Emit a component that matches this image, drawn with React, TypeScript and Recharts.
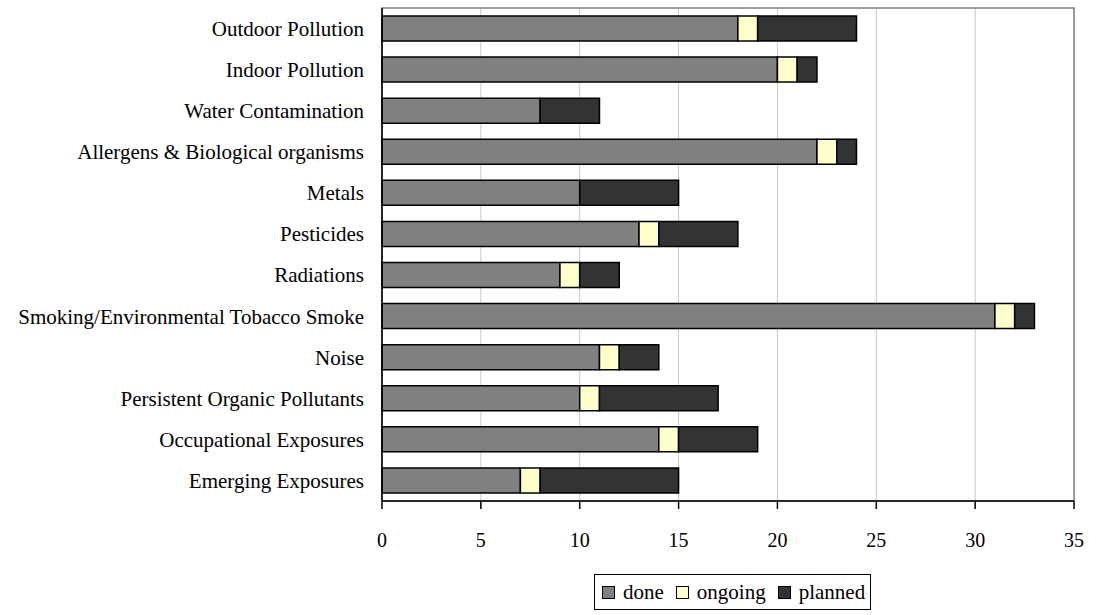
import React from 'react';
import { BarChart, Bar, XAxis, YAxis, CartesianGrid, Legend, ReferenceArea } from 'recharts';

const categories = [
  'Outdoor Pollution',
  'Indoor Pollution',
  'Water Contamination',
  'Allergens & Biological organisms',
  'Metals ',
  'Pesticides',
  'Radiations',
  'Smoking/Environmental Tobacco Smoke',
  'Noise',
  'Persistent Organic Pollutants',
  'Occupational Exposures',
  'Emerging Exposures',
];

const done = [18, 20, 8, 22, 10, 13, 9, 31, 11, 10, 14, 7];
const ongoing = [1, 1, 0, 1, 0, 1, 1, 1, 1, 1, 1, 1];
const planned = [5, 1, 3, 1, 5, 4, 2, 1, 2, 6, 4, 7];

const xTicks = [0, 5, 10, 15, 20, 25, 30, 35];

const seriesInfo = [
  { key: 'done', label: 'done', color: '#808080' },
  { key: 'ongoing', label: 'ongoing', color: '#ffffcc' },
  { key: 'planned', label: 'planned', color: '#333333' },
];

const data = categories.map((name, i) => ({
  name,
  done: done[i],
  ongoing: ongoing[i],
  planned: planned[i],
}));

const FONT = '"Liberation Serif", "Times New Roman", serif';

function LegendBox() {
  return (
    <div
      style={{
        display: 'inline-flex',
        alignItems: 'center',
        boxSizing: 'border-box',
        height: 36,
        border: '1px solid #000',
        padding: '0 5px 0 7px',
        fontFamily: FONT,
        fontSize: 21,
        color: '#000',
        background: '#fff',
      }}
    >
      {seriesInfo.map((s, i) => (
        <span key={s.key} style={{ display: 'inline-flex', alignItems: 'center', marginRight: i < 2 ? 12 : 0 }}>
          <span
            style={{
              display: 'inline-block',
              width: 11,
              height: 11,
              background: s.color,
              border: '1.5px solid #000',
              marginRight: 8,
            }}
          />
          {s.label}
        </span>
      ))}
    </div>
  );
}

export default function App() {
  return (
    <div style={{ width: 1099, height: 615, position: 'relative' }}>
      <style>{`body{margin:0;background:#fff}`}</style>
      <BarChart
        width={1099}
        height={615}
        data={data}
        layout="vertical"
        margin={{ top: 8, right: 25, bottom: 0, left: 0 }}
        barSize={25}
      >
        <CartesianGrid horizontal={false} stroke="#c8c8c8" strokeWidth={1} />
        <ReferenceArea x1={0} x2={35} stroke="#808080" strokeWidth={1.5} fill="none" ifOverflow="visible" />
        <XAxis
          type="number"
          domain={[0, 35]}
          ticks={xTicks}
          interval={0}
          axisLine={{ stroke: '#000', strokeWidth: 1.5 }}
          tickLine={{ stroke: '#000', strokeWidth: 1.5 }}
          tickSize={8}
          tickMargin={24}
          height={78}
          tick={{ fill: '#000', fontSize: 20, fontFamily: FONT }}
        />
        <YAxis
          type="category"
          dataKey="name"
          width={382}
          interval={0}
          axisLine={{ stroke: '#000', strokeWidth: 1.5 }}
          tickLine={false}
          tickMargin={12}
          tick={{ fill: '#000', fontSize: 21, fontFamily: FONT }}
        />
        <Legend
          verticalAlign="bottom"
          align="center"
          content={() => <LegendBox />}
          wrapperStyle={{ left: 594, width: 'auto', bottom: 5, lineHeight: 0 }}
        />
        {seriesInfo.map(s => (
          <Bar
            key={s.key}
            dataKey={s.key}
            stackId="a"
            fill={s.color}
            stroke="#000"
            strokeWidth={1.5}
            isAnimationActive={false}
          />
        ))}
      </BarChart>
    </div>
  );
}
